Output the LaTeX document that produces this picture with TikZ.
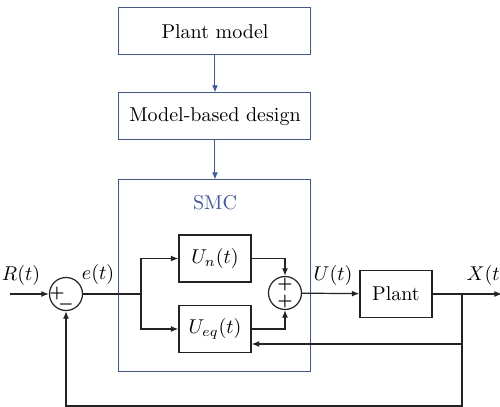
\documentclass[tikz,border=0pt]{standalone}
\usepackage{amsmath}
\usetikzlibrary{arrows.meta}
\definecolor{designblue}{RGB}{58,86,182}
\definecolor{sigline}{RGB}{35,35,35}
\begin{document}
\begin{tikzpicture}[x=0.5pt,y=-0.5pt,
  tip/.style={-{Latex[length=3.8pt,width=3pt]}},
  bluebox/.style={draw=designblue,line width=0.5pt,minimum width=96pt,minimum height=23.5pt,inner sep=0pt},
  blockbox/.style={draw=sigline,line width=0.6pt,minimum width=36pt,minimum height=23.5pt,inner sep=0pt},
  summer/.style={draw=sigline,circle,line width=0.6pt,minimum size=16.5pt,inner sep=0pt},
  sig/.style={draw=sigline,line width=0.6pt},
  bluelink/.style={draw=designblue,line width=0.5pt,-{Latex[length=3.6pt,width=2.9pt]}},
  sign/.style={inner sep=0pt,font=\footnotesize\boldmath}]
\useasboundingbox (0,0) rectangle (500,407);

% design chain
\node[bluebox] (pm) at (215,31.5) {Plant model};
\node[bluebox] (mbd) at (215,116.5) {Model-based design};
\node[draw=designblue,line width=0.5pt,minimum width=96pt,minimum height=96pt,inner sep=0pt] (smc) at (215,276) {};
\node[text=designblue] (smclabel) at (215,203) {SMC};
\draw[bluelink] (pm) -- (mbd);
\draw[bluelink] (mbd) -- (smc);

% control loop blocks
\node[summer] (s1) at (66,294) {};
\node[sign] (s1p) at (57,294) {$+$};
\node[sign] (s1m) at (66,305) {$-$};
\node[blockbox] (un) at (215,258.5) {$U_n(t)$};
\node[blockbox] (ueq) at (215,329) {$U_{eq}(t)$};
\node[summer] (s2) at (285,293) {};
\node[sign] (s2a) at (285,284.5) {$+$};
\node[sign] (s2b) at (285,302) {$+$};
\node[blockbox] (plant) at (396,294) {Plant};

\coordinate (rin) at (10,294);
\coordinate (split) at (141,294);
\coordinate (xout) at (502,294);
\coordinate (tap) at (462,294);
\coordinate (fbmid) at (462,344);
\coordinate (fblow) at (462,406);
\coordinate (fbleft) at (66,406);

% signal labels
\node (rl) at (21,276) {$R(t)$};
\node (el) at (98,275) {$e(t)$};
\node (ul) at (333,276) {$U(t)$};
\node (xl) at (487,276) {$X(t)$};

% signal paths
\draw[sig,tip] (rin) -- (s1);
\draw[sig] (s1) -- (split);
\draw[sig,tip] (split) |- (un);
\draw[sig,tip] (split) |- (ueq);
\draw[sig,tip] (un.east) -| (s2.north);
\draw[sig,tip] (ueq.east) -| (s2.south);
\draw[sig,tip] (s2) -- (plant);
\draw[sig,tip] (plant) -- (xout);
\draw[sig,tip] (tap) -- (fbmid) -- (ueq.east |- fbmid);
\draw[sig,tip] (fbmid) -- (fblow) -- (fbleft) -- (s1.south);
\end{tikzpicture}
\end{document}
